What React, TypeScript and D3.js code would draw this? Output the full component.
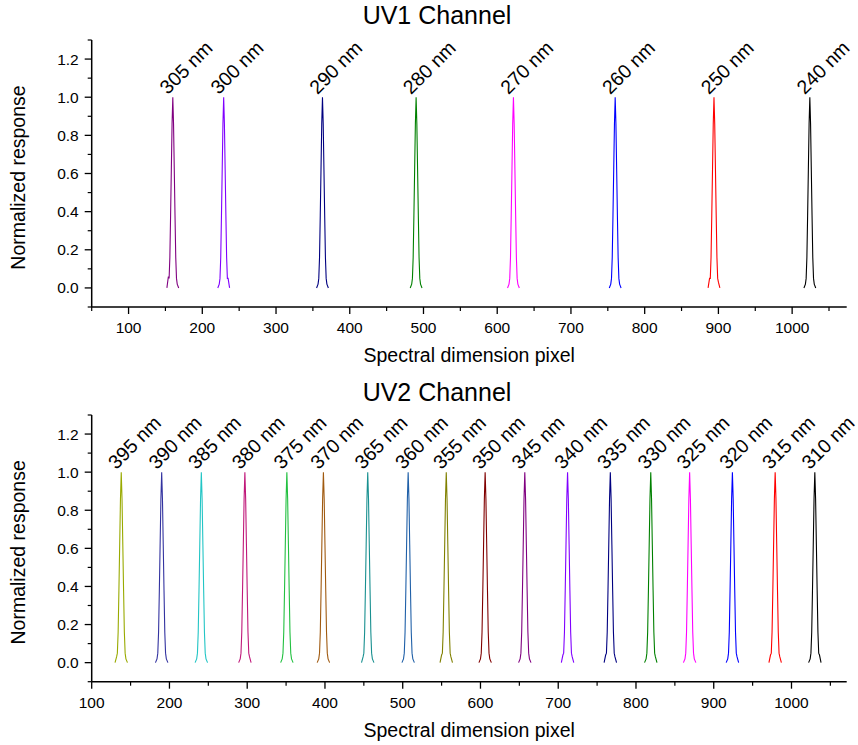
import React from "react";
import * as d3 from "d3";

// ---------- data ----------
const uv1Labels = ["305 nm", "300 nm", "290 nm", "280 nm", "270 nm", "260 nm", "250 nm", "240 nm"];
const uv1Centers = [160, 229, 363, 490, 622, 760, 894, 1024];
const uv1Colors = ["#800080", "#8000ff", "#000080", "#008000", "#ff00ff", "#0000ff", "#ff0000", "#000000"];
const uv1FootLeft = [0.06, 0.01, 0.02, 0.02, 0.01, 0.01, 0.05, 0.02];
const uv1FootRight = [0.0, 0.05, 0.01, 0.01, 0.02, 0.0, 0.03, 0.01];

const uv2Labels = [
  "395 nm", "390 nm", "385 nm", "380 nm", "375 nm", "370 nm", "365 nm", "360 nm", "355 nm",
  "350 nm", "345 nm", "340 nm", "335 nm", "330 nm", "325 nm", "320 nm", "315 nm", "310 nm",
];
const uv2Centers = [138, 190, 241, 297, 351, 398, 455, 507, 556, 606, 657, 712, 767, 819, 869, 924, 979, 1030];
const uv2Colors = [
  "#99aa00", "#3333a0", "#22c5c5", "#c0187a", "#22c040", "#a05a10", "#199090", "#2060a8", "#808000",
  "#800000", "#800080", "#8000ff", "#000080", "#008000", "#ff00ff", "#0000ff", "#ff0000", "#000000",
];
const uv2FootLeft = [0.03, 0.01, 0.02, 0.01, 0.01, 0.02, 0.03, 0.01, 0.04, 0.01, 0.01, 0.04, 0.04, 0.02, 0.02, 0.02, 0.04, 0.02];
const uv2FootRight = [0.02, 0.01, 0.01, 0.03, 0.01, 0.01, 0.02, 0.02, 0.03, 0.01, 0.01, 0.03, 0.03, 0.03, 0.02, 0.03, 0.03, 0.04];

// shared peak profile (offset in spectral pixels, normalized response)
const profileOffsets = [-8, -6, -5, -4, -3, -2, -1, 0, 1, 2, 3, 4, 5, 6, 8];
const profileValues = [0, 0.02, 0.05, 0.16, 0.38, 0.62, 0.86, 1, 0.86, 0.62, 0.38, 0.16, 0.05, 0.02, 0];

const yTicksMajor = [0, 0.2, 0.4, 0.6, 0.8, 1.0, 1.2];
const yTicksMinor = [-0.1, 0.1, 0.3, 0.5, 0.7, 0.9, 1.1, 1.3];
const uv1XTicks = [100, 200, 300, 400, 500, 600, 700, 800, 900, 1000];
const uv1XMinor = [50, 150, 250, 350, 450, 550, 650, 750, 850, 950, 1050];
const uv2XTicks = [100, 200, 300, 400, 500, 600, 700, 800, 900, 1000];
const uv2XMinor = [150, 250, 350, 450, 550, 650, 750, 850, 950, 1050];

const FONT = "'Liberation Sans', Arial, Helvetica, sans-serif";

type PanelProps = {
  title: string;
  top: number;
  bottom: number;
  titleY: number;
  xDomain: [number, number];
  labels: string[];
  centers: number[];
  colors: string[];
  footL: number[];
  footR: number[];
  xTicks: number[];
  xMinor: number[];
};

const LEFT = 91.7;
const RIGHT = 846.7;

function Panel(p: PanelProps) {
  const x = d3.scaleLinear().domain(p.xDomain).range([LEFT, RIGHT]);
  const y = d3.scaleLinear().domain([-0.1, 1.3]).range([p.bottom, p.top]);
  const line = d3
    .line<[number, number]>()
    .x((d) => x(d[0]))
    .y((d) => y(d[1]));

  const peakData = (i: number): [number, number][] =>
    profileOffsets.map((o, k) => {
      let v = profileValues[k];
      if (o === -6) v = Math.max(v, p.footL[i]);
      if (o === 6) v = Math.max(v, p.footR[i]);
      return [p.centers[i] + o, v];
    });

  const midX = (LEFT + RIGHT) / 2;
  return (
    <g>
      <text x={437} y={p.titleY} fontSize={25} textAnchor="middle" fontFamily={FONT}>
        {p.title}
      </text>
      {p.centers.map((c, i) => (
        <path key={"p" + i} d={line(peakData(i)) || ""} fill="none" stroke={p.colors[i]} strokeWidth={1.1} />
      ))}
      {p.centers.map((c, i) => (
        <text
          key={"l" + i}
          transform={`translate(${x(c) - 5},${y(1) - 2}) rotate(-45)`}
          fontSize={19.5}
          fontFamily={FONT}
        >
          {p.labels[i]}
        </text>
      ))}
      <line x1={LEFT} x2={LEFT} y1={p.top} y2={p.bottom} stroke="#000" strokeWidth={1.5} />
      <line x1={LEFT} x2={RIGHT} y1={p.bottom} y2={p.bottom} stroke="#000" strokeWidth={1.5} />
      {yTicksMajor.map((t) => (
        <g key={"ym" + t}>
          <line x1={LEFT - 7} x2={LEFT} y1={y(t)} y2={y(t)} stroke="#000" strokeWidth={1.3} />
          <text x={LEFT - 13} y={y(t) + 5.5} fontSize={15.5} textAnchor="end" fontFamily={FONT}>
            {t.toFixed(1)}
          </text>
        </g>
      ))}
      {yTicksMinor.map((t) => (
        <line key={"yn" + t} x1={LEFT - 4} x2={LEFT} y1={y(t)} y2={y(t)} stroke="#000" strokeWidth={1.2} />
      ))}
      {p.xTicks.map((t) => (
        <g key={"xm" + t}>
          <line x1={x(t)} x2={x(t)} y1={p.bottom} y2={p.bottom + 7} stroke="#000" strokeWidth={1.3} />
          <text x={x(t)} y={p.bottom + 26} fontSize={15.5} textAnchor="middle" fontFamily={FONT}>
            {t}
          </text>
        </g>
      ))}
      {p.xMinor.map((t) => (
        <line key={"xn" + t} x1={x(t)} x2={x(t)} y1={p.bottom} y2={p.bottom + 4} stroke="#000" strokeWidth={1.2} />
      ))}
      <text x={midX} y={p.bottom + 55} fontSize={19.5} textAnchor="middle" fontFamily={FONT}>
        Spectral dimension pixel
      </text>
      <text
        transform={`translate(25,${(p.top + p.bottom) / 2 + 4}) rotate(-90)`}
        fontSize={19.5}
        textAnchor="middle"
        fontFamily={FONT}
      >
        Normalized response
      </text>
    </g>
  );
}

export default function App() {
  return (
    <svg
      width={858}
      height={745}
      viewBox="0 0 858 745"
      style={{ position: "absolute", left: 0, top: 0, background: "#fff", display: "block" }}
    >
      <rect width={858} height={745} fill="#fff" />
      <Panel
        title="UV1 Channel"
        top={40}
        bottom={307}
        titleY={24}
        xDomain={[50, 1074]}
        labels={uv1Labels}
        centers={uv1Centers}
        colors={uv1Colors}
        footL={uv1FootLeft}
        footR={uv1FootRight}
        xTicks={uv1XTicks}
        xMinor={uv1XMinor}
      />
      <Panel
        title="UV2 Channel"
        top={415}
        bottom={681.7}
        titleY={401}
        xDomain={[100, 1071]}
        labels={uv2Labels}
        centers={uv2Centers}
        colors={uv2Colors}
        footL={uv2FootLeft}
        footR={uv2FootRight}
        xTicks={uv2XTicks}
        xMinor={uv2XMinor}
      />
    </svg>
  );
}
